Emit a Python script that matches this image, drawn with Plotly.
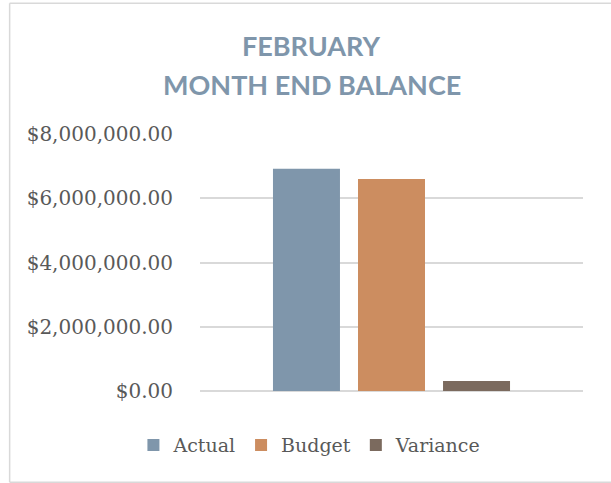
import plotly.graph_objects as go

categories = ["February"]
series_names = ["Actual", "Budget", "Variance"]
actual = [6915000]
budget = [6603000]
variance = [312000]
colors = ["#7f96ab", "#cc8d60", "#7b6a5e"]
tick_values = [0, 2000000, 4000000, 6000000, 8000000]
title_lines = ["FEBRUARY", "MONTH END BALANCE"]

fig = go.Figure()
for name, vals, col in zip(series_names, [actual, budget, variance], colors):
    fig.add_trace(go.Bar(name=name, x=categories, y=vals, marker=dict(color=col, line=dict(width=0))))

serif = "DejaVu Serif"
title_x = (311.5 - 200) / 383
border = dict(color="#d9d9d9", width=1.5)
fig.update_layout(
    width=611, height=483,
    margin=dict(l=200, r=28, t=134, b=92),
    paper_bgcolor="white", plot_bgcolor="white",
    barmode="group", bargap=0.334, bargroupgap=0.212,
    showlegend=True,
    legend=dict(orientation="h", x=0.287, xanchor="center", y=-0.211, yanchor="middle",
                font=dict(family=serif, size=19, color="#595959"), bgcolor="rgba(0,0,0,0)"),
    annotations=[
        dict(text=title_lines[0], xref="paper", yref="paper", x=title_x, y=1.343,
             xanchor="center", yanchor="middle", showarrow=False,
             font=dict(family="Lato", size=27, color="#7f96ab", weight="bold")),
        dict(text=title_lines[1], xref="paper", yref="paper", x=title_x, y=1.194,
             xanchor="center", yanchor="middle", showarrow=False,
             font=dict(family="Lato", size=27, color="#7f96ab", weight="bold")),
    ],
    shapes=[
        dict(type="line", xref="paper", yref="paper", x0=-0.497, x1=1.2, y0=1.509, y1=1.509, line=border, layer="below"),
        dict(type="line", xref="paper", yref="paper", x0=-0.497, x1=1.2, y0=-0.355, y1=-0.355, line=border, layer="below"),
        dict(type="line", xref="paper", yref="paper", x0=-0.497, x1=-0.497, y0=-0.355, y1=1.509, line=border, layer="below"),
    ],
)
fig.update_xaxes(showticklabels=False, showgrid=False, zeroline=False, showline=False)
fig.update_yaxes(range=[0, 8000000], tickvals=tick_values, tickformat="$,.2f",
                 showgrid=True, gridcolor="#d9d9d9", gridwidth=1.5,
                 zeroline=True, zerolinecolor="#d9d9d9", zerolinewidth=1.5,
                 showline=False, ticks="", ticklabelstandoff=26,
                 tickfont=dict(family=serif, size=20, color="#595959"))

fig.write_html("out.html", config={"displayModeBar": False},
               post_script="document.body.style.margin='0px';")
